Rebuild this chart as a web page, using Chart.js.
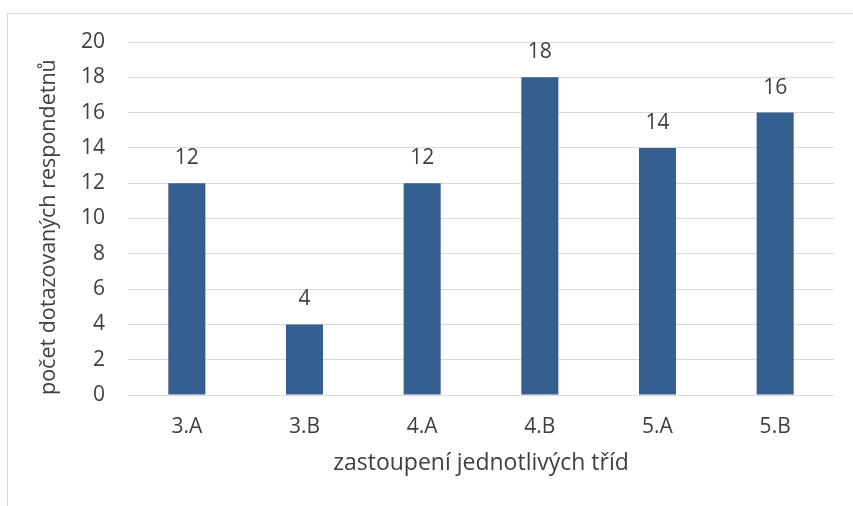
<!DOCTYPE html>
<html lang="cs">
<head>
    <meta charset="UTF-8">
    <title>Zastoupení tříd</title>
    <style>
        *{box-sizing:border-box}
        html,body{margin:0;padding:0;background:#fff}
        #chart{display:block}
    </style>
    <script src="https://cdn.jsdelivr.net/npm/chart.js@4"></script>
</head>
<body>
    <canvas id="chart" width="853" height="506"></canvas>

    <script>
        // Data
        const classes = ['3.A', '3.B', '4.A', '4.B', '5.A', '5.B'];
        const respondents = [12, 4, 12, 18, 14, 16];
        const xTitle = 'zastoupení jednotlivých tříd';
        const yTitle = 'počet dotazovaných respondetnů';

        const textColor = '#404040';
        const gridColor = '#d9d9d9';
        const barColor = '#355f8f';
        const fontFamily = "'Open Sans', 'Noto Sans', sans-serif";

        // Light frame on the left and top edge like the original
        const framePlugin = {
            id: 'frame',
            beforeDraw(chart) {
                const ctx = chart.ctx;
                ctx.save();
                ctx.strokeStyle = gridColor;
                ctx.lineWidth = 1;
                ctx.beginPath();
                ctx.moveTo(7.5, chart.height);
                ctx.lineTo(7.5, 13.5);
                ctx.lineTo(chart.width, 13.5);
                ctx.stroke();
                ctx.restore();
            }
        };

        // Value labels above bars
        const valueLabels = {
            id: 'valueLabels',
            afterDatasetsDraw(chart) {
                const ctx = chart.ctx;
                const meta = chart.getDatasetMeta(0);
                ctx.save();
                ctx.fillStyle = textColor;
                ctx.font = '21px ' + fontFamily;
                ctx.textAlign = 'center';
                ctx.textBaseline = 'middle';
                meta.data.forEach((bar, i) => {
                    ctx.fillText(respondents[i], bar.x, bar.y - 25);
                });
                ctx.restore();
            }
        };

        new Chart(document.getElementById('chart'), {
            type: 'bar',
            data: {
                labels: classes,
                datasets: [{
                    data: respondents,
                    backgroundColor: barColor,
                    categoryPercentage: 1,
                    barPercentage: 0.315
                }]
            },
            options: {
                responsive: false,
                animation: false,
                layout: {
                    padding: {left: 20, right: 19, top: 42, bottom: 28}
                },
                plugins: {
                    legend: {display: false},
                    tooltip: {enabled: false}
                },
                scales: {
                    x: {
                        grid: {display: false},
                        border: {display: false},
                        ticks: {
                            color: textColor,
                            font: {family: fontFamily, size: 21},
                            padding: 11
                        },
                        title: {
                            display: true,
                            text: xTitle,
                            color: textColor,
                            font: {family: fontFamily, size: 23},
                            padding: 1
                        },
                        afterFit(scale) { scale.height = 83; }
                    },
                    y: {
                        min: 0,
                        max: 20,
                        grid: {color: gridColor, drawTicks: false},
                        border: {display: false},
                        ticks: {
                            stepSize: 2,
                            color: textColor,
                            font: {family: fontFamily, size: 21},
                            padding: 23
                        },
                        title: {
                            display: true,
                            align: 'start',
                            text: yTitle,
                            color: textColor,
                            font: {family: fontFamily, size: 21.5},
                            padding: 16
                        },
                        afterFit(scale) { scale.width = 108; }
                    }
                }
            },
            plugins: [framePlugin, valueLabels]
        });
    </script>
</body>
</html>
